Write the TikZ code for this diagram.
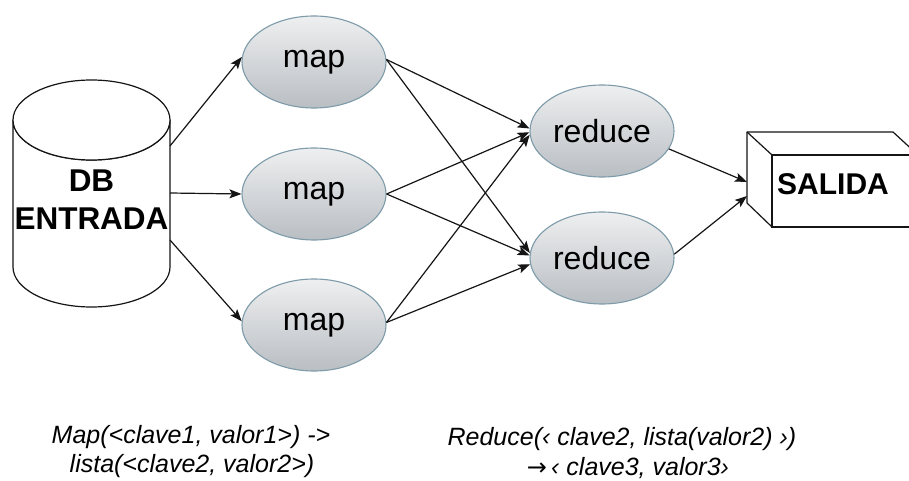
\documentclass[tikz,border=0pt]{standalone}
\usepackage{fontspec}
\setmainfont{Liberation Sans}
\newfontfamily\symfont{DejaVu Sans}
\usetikzlibrary{shapes.geometric,arrows.meta}
\definecolor{ellborder}{HTML}{7E9BAA}
\definecolor{elltop}{HTML}{EEEFF0}
\definecolor{ellbot}{HTML}{B9BEC3}
\definecolor{ln}{HTML}{151515}
\tikzset{
  proc/.style={ellipse, draw=ellborder, line width=1.1pt, top color=elltop, bottom color=ellbot,
    minimum width=144pt, minimum height=92pt, inner sep=0pt, font=\fontsize{32}{36}\selectfont},
  conn/.style={draw=ln, line width=1.2pt, -{Stealth[length=12pt,width=9pt,inset=2.5pt]}},
  boxline/.style={draw=ln, line width=1.2pt, fill=white},
  caption/.style={font=\itshape\fontsize{25}{29}\selectfont, align=center, inner sep=0pt}
}
\begin{document}
\begin{tikzpicture}[x=1pt,y=-1pt]
\useasboundingbox (0,0) rectangle (909,481);
\fill[white] (0,0) rectangle (909,481);
\clip (0,0) rectangle (909,481);
% cylinder
\draw[boxline] (13,120) -- (13,267) arc[start angle=180,end angle=0,x radius=78.5,y radius=40] -- (170,120)
  arc[start angle=0,end angle=180,x radius=78.5,y radius=40] -- cycle;
\draw[boxline] (91.5,120) ellipse[x radius=78.5,y radius=40];
\node[font=\bfseries\fontsize{31.5}{38}\selectfont, align=center, inner sep=0pt] (db) at (91.5,200) {DB\\ENTRADA};
\coordinate (d1) at (170,146);
\coordinate (d2) at (170,193);
\coordinate (d3) at (170,240);
% maps
\node[proc] (m1) at (314,62) {map};
\node[proc] (m2) at (314,194) {map};
\node[proc] (m3) at (314,325) {map};
% reduces
\node[proc] (r1) at (602,131) {reduce};
\node[proc] (r2) at (602,258) {reduce};
% SALIDA box
\fill[white] (747,132) -- (893,132) -- (918,155) -- (918,227) -- (772,227) -- (747,203) -- cycle;
\draw[ln, line width=1.2pt, line join=round] (747,203) -- (747,132) -- (893,132) -- (918,155);
\draw[ln, line width=1.2pt] (747,132) -- (772,155);
\draw[ln, line width=1.2pt] (747,203) -- (772,227);
\draw[ln, line width=1.2pt] (772,155) rectangle (918,227);
\node[font=\bfseries\fontsize{30}{32}\selectfont, inner sep=0pt] (out) at (833,184) {SALIDA};
\coordinate (o1) at (747,182);
\coordinate (o2) at (747,196);
% connectors
\draw[conn] (d1) -- (m1.176);
\draw[conn] (d2) -- (m2.west);
\draw[conn] (d3) -- (m3.177);
\draw[conn] (m1.2) -- (r1.178);
\draw[conn] (m1.2) -- (r2.176);
\draw[conn] (m2.east) -- (r1.181);
\draw[conn] (m2.east) -- (r2.178);
\draw[conn] (m3.2) -- (r1.183);
\draw[conn] (m3.2) -- (r2.185);
\draw[conn] (r1.-15) -- (o1);
\draw[conn] (r2.3) -- (o2);
% captions
\node[caption, anchor=base] (c1) at (191,443) {Map(<clave1, valor1>) ->};
\node[caption, anchor=base] (c2) at (192,472) {lista(<clave2, valor2>)};
\node[caption, anchor=base] (c3) at (622,445) {Reduce(‹ clave2, lista(valor2) ›)};
\node[caption, anchor=base] (c4) at (628,475) {{\symfont\upshape\fontsize{24}{29}\selectfont →}\,‹ clave3, valor3›};
\end{tikzpicture}
\end{document}
